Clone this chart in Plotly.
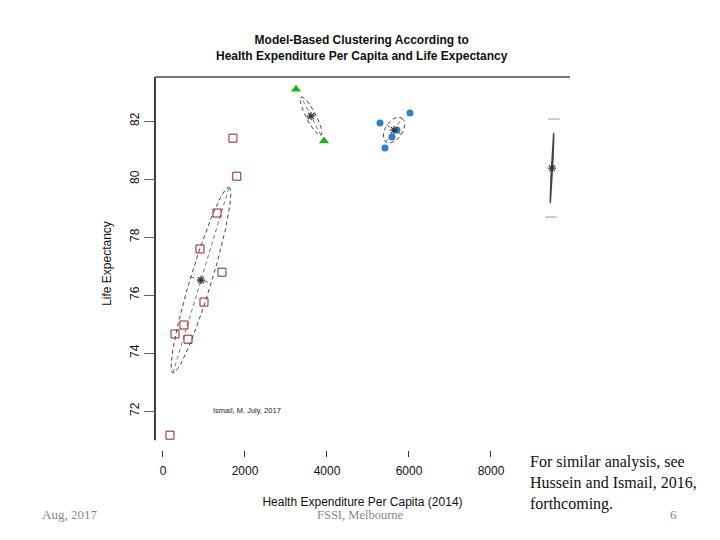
import numpy as np
import plotly.graph_objects as go

# ---------------- data ----------------
# cluster 1 (open squares)
c1_x = [1707, 1800, 1317, 902, 1439, 1000, 512, 293, 610, 170]
c1_y = [81.41, 80.10, 78.83, 77.59, 76.79, 75.76, 74.97, 74.66, 74.48, 71.17]
# cluster 2 (triangles)
c2_x = [3244, 3927]
c2_y = [83.10, 81.31]
# cluster 3 (filled circles)
c3_x = [5293, 6024, 5415, 5585, 5707]
c3_y = [81.93, 82.28, 81.07, 81.45, 81.69]
# cluster 4 marks (grey dashes)
c4_x = [9537, 9463]
c4_y = [82.07, 78.69]

# cluster means
mean_x = [927, 3610, 5634, 9488]
mean_y = [76.52, 82.17, 81.69, 80.38]
# ellipse major-axis tip and minor/major ratio
tip_x = [1610, 3366, 5829, 9530]
tip_y = [79.72, 82.83, 82.10, 81.59]
ratio = [0.11, 0.23, 0.6, 0.02]

x_ticks = [0, 2000, 4000, 6000, 8000]
y_ticks = [72, 74, 76, 78, 80, 82]

# ---------------- figure ----------------
x_range = [-195, 9927]
y_range = [70.66, 83.52]
PW, PH = 415, 373  # plot area size in px
sx = PW / (x_range[1] - x_range[0])
sy = PH / (y_range[1] - y_range[0])

fig = go.Figure()

serif = "Liberation Serif, Times New Roman, serif"
sans = "Liberation Sans, Arial, sans-serif"

for k in range(len(mean_x)):
    cx, cy = mean_x[k], mean_y[k]
    ax_ = np.array([(tip_x[k] - cx) * sx, (tip_y[k] - cy) * sy])
    bx_ = np.array([ax_[1], -ax_[0]]) * ratio[k]
    t = np.linspace(0, 2 * np.pi, 160)
    ex = cx + (np.cos(t) * ax_[0] + np.sin(t) * bx_[0]) / sx
    ey = cy + (np.cos(t) * ax_[1] + np.sin(t) * bx_[1]) / sy
    solid = ratio[k] < 0.05
    fig.add_trace(go.Scatter(x=ex, y=ey, mode="lines",
                             line=dict(color="#333" if not solid else "#444",
                                       width=0.9 if not solid else 1.2,
                                       dash="solid" if solid else "4px,3px"),
                             hoverinfo="skip", showlegend=False))
    if not solid:
        for v in (ax_, bx_):
            fig.add_trace(go.Scatter(
                x=[cx - v[0] / sx, cx + v[0] / sx],
                y=[cy - v[1] / sy, cy + v[1] / sy],
                mode="lines", line=dict(color="#555", width=0.8, dash="4px,3px"),
                hoverinfo="skip", showlegend=False))

fig.add_trace(go.Scatter(x=c1_x, y=c1_y, mode="markers",
                         marker=dict(symbol="square-open", size=8, color="#9E1F1F",
                                     line=dict(width=1)), showlegend=False))
fig.add_trace(go.Scatter(x=c2_x, y=c2_y, mode="markers",
                         marker=dict(symbol="triangle-up", size=9, color="#22B022"),
                         showlegend=False))
fig.add_trace(go.Scatter(x=c3_x, y=c3_y, mode="markers",
                         marker=dict(symbol="circle", size=7, color="#2E7FD3"),
                         showlegend=False))
fig.add_trace(go.Scatter(x=c4_x, y=c4_y, mode="markers",
                         marker=dict(symbol="line-ew-open", size=8, color="#999",
                                     line=dict(width=1, color="#999")),
                         showlegend=False))
fig.add_trace(go.Scatter(x=mean_x, y=mean_y, mode="markers",
                         marker=dict(symbol="asterisk-open", size=7, color="#333",
                                     line=dict(width=1.2, color="#333")),
                         showlegend=False))

# page body has an 8px margin: compensate so the plot area sits at (155..570, 77..450)
L, T = 147, 69
fig.update_layout(
    width=712, height=532,
    margin=dict(l=L, r=712 - L - PW, t=T, b=532 - T - PH),
    paper_bgcolor="white", plot_bgcolor="white",
    font=dict(family=sans, size=12, color="#111"),
    xaxis=dict(range=x_range, tickvals=x_ticks, ticks="outside", ticklen=6,
               tickcolor="#333", tickwidth=1, showgrid=False, zeroline=False,
               showline=False, ticklabelstandoff=4,
               tickfont=dict(family=sans, size=12, color="#111"),
               title=dict(text="Health Expenditure Per Capita (2014)",
                          font=dict(family=sans, size=12, color="#111"), standoff=20)),
    yaxis=dict(range=y_range, tickvals=y_ticks, ticks="outside", ticklen=10,
               tickcolor="#666", tickwidth=1, showgrid=False, zeroline=False,
               showline=False, tickangle=-90, ticklabelstandoff=0,
               tickfont=dict(family=sans, size=12, color="#111"),
               title=dict(text="Life Expectancy",
                          font=dict(family=sans, size=12, color="#111"), standoff=14)),
)

# axis frame lines
fig.add_shape(type="line", xref="paper", yref="y", x0=0, x1=0, y0=71.0, y1=y_range[1],
              line=dict(color="black", width=1.5))
fig.add_shape(type="line", xref="paper", yref="paper", x0=0, x1=1, y0=1, y1=1,
              line=dict(color="#777", width=2))


def px(xp):
    return (xp - 155) / PW


def py(yp):
    return (450 - yp) / PH


# title
fig.add_annotation(text="<b>Model-Based Clustering According to</b><br><b>Health Expenditure Per Capita and Life Expectancy</b>",
                   xref="paper", yref="paper", x=px(362), y=py(48),
                   xanchor="center", yanchor="middle",
                   showarrow=False, font=dict(family=sans, size=12, color="#111"),
                   align="center")
# small signature
fig.add_annotation(text="Ismail, M. July, 2017", x=(211 - 163) / 0.041, y=72 + (411 - 410) / 29,
                   xanchor="left", yanchor="middle", showarrow=False,
                   font=dict(family=sans, size=7.5, color="#222"))

# slide footer texts
fig.add_annotation(text="Aug, 2017", xref="paper", yref="paper",
                   x=px(69), y=py(515), xanchor="center", yanchor="middle", showarrow=False,
                   font=dict(family=serif, size=13, color="#888"))
fig.add_annotation(text="FSSI, Melbourne", xref="paper", yref="paper",
                   x=px(360), y=py(515), xanchor="center", yanchor="middle", showarrow=False,
                   font=dict(family=serif, size=12.5, color="#888"))
fig.add_annotation(text="6", xref="paper", yref="paper",
                   x=px(673), y=py(515), xanchor="center", yanchor="middle", showarrow=False,
                   font=dict(family=serif, size=13, color="#888"))
fig.add_annotation(text="For similar analysis, see<br>Hussein and Ismail, 2016,<br>forthcoming.",
                   xref="paper", yref="paper", x=px(528), y=py(483),
                   xanchor="left", yanchor="middle", align="left", showarrow=False,
                   font=dict(family=serif, size=16, color="#111"))

fig.write_html("out.html")
